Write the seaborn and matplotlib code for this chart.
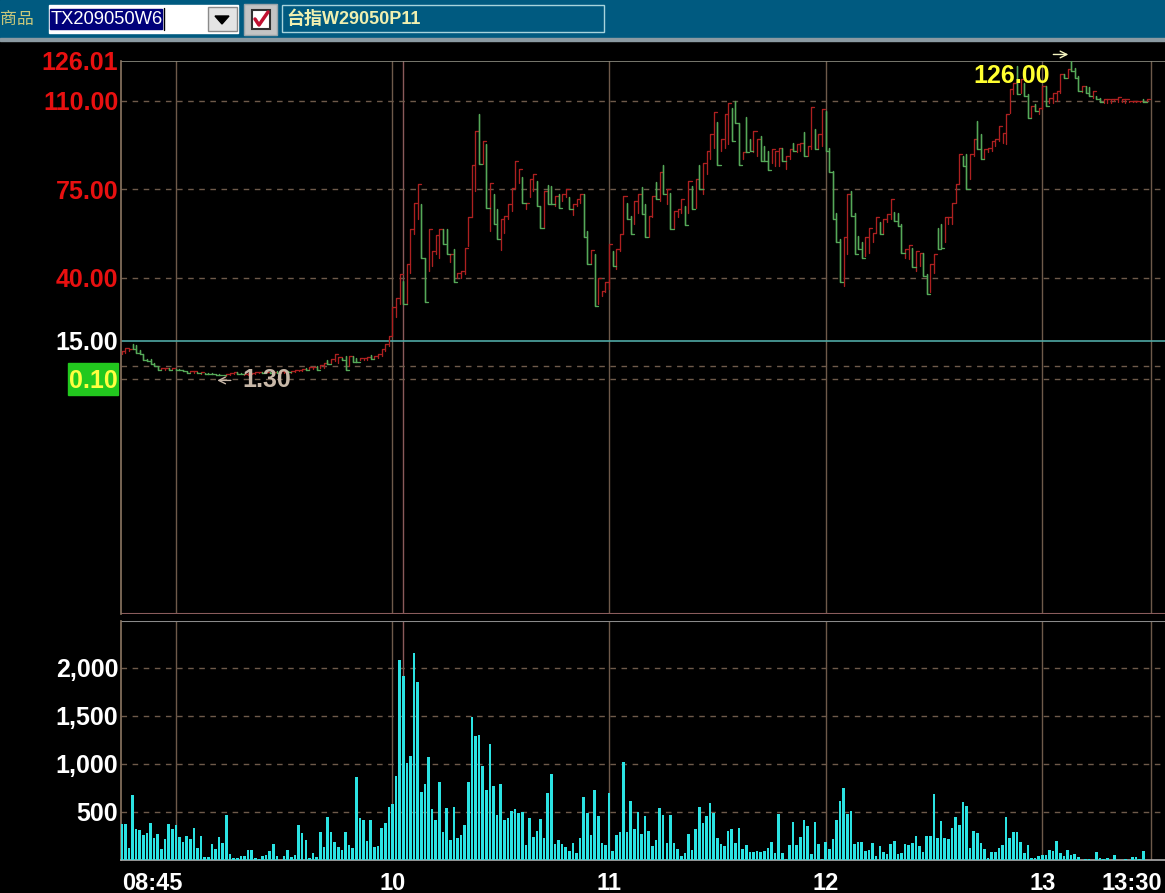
import numpy as np
import pandas as pd
import matplotlib
matplotlib.use("Agg")
import matplotlib.pyplot as plt
import seaborn as sns
from matplotlib.patches import Rectangle, Polygon
from matplotlib.transforms import ScaledTranslation

W, H = 1165, 893

product_code = "TX209050W6"
product_name = "台指W29050P11"

price_ticks = [126.01, 110, 75, 40, 15, 0.10]
price_labels = ["126.01", "110.00", "75.00", "40.00", "15.00", "0.10"]
price_label_colors = ["#e81010", "#e81010", "#e81010", "#e81010", "white", "#ffff40"]
price_dashed = [110, 75, 40, 5, 0.10]
reference_price = 15

volume_ticks = [500, 1000, 1500, 2000]
volume_labels = ["500", "1,000", "1,500", "2,000"]

# minutes after 08:45
time_ticks = [0, 15, 75, 135, 195, 255, 285]
time_labels = ["08:45", "", "10", "11", "12", "13", "13:30"]
marker_minute = 78

highs = [
    11.0, 12.1, 12.0, 13.7, 13.4, 11.3, 10.0, 8.0, 7.7, 6.4,
    5.1, 4.4, 4.4, 4.2, 4.3, 4.0, 4.0, 3.6, 3.1, 3.1,
    3.0, 2.7, 2.6, 2.5, 2.3, 2.2, 2.1, 1.8, 1.5, 1.8,
    2.2, 2.7, 2.7, 2.5, 2.1, 2.2, 2.3, 2.7, 2.9, 2.7,
    2.6, 2.7, 2.9, 3.1, 3.0, 2.9, 3.1, 3.1, 3.4, 3.5,
    3.9, 4.3, 4.6, 4.9, 5.0, 5.4, 6.4, 7.6, 7.9, 9.7,
    8.7, 8.4, 9.1, 9.1, 9.1, 8.4, 8.1, 8.4, 8.7, 9.5,
    9.1, 9.7, 11.7, 13.7, 17.0, 28.3, 32.2, 41.7, 38.8, 45.4,
    59.3, 69.8, 77.0, 69.1, 48.0, 59.3, 50.7, 57.0, 59.3, 59.3,
    59.3, 49.4, 51.3, 42.1, 42.8, 52.0, 63.9, 84.7, 98.1, 105.0,
    94.2, 92.9, 77.7, 73.1, 67.2, 63.2, 64.5, 69.1, 75.7, 86.3,
    83.0, 79.9, 69.8, 79.0, 81.0, 78.4, 68.5, 74.4, 76.8, 76.4,
    72.4, 73.1, 73.1, 75.1, 71.8, 69.1, 71.1, 73.1, 73.1, 58.6,
    50.9, 49.4, 40.1, 34.9, 38.2, 53.3, 50.7, 51.3, 57.3, 72.4,
    69.8, 64.5, 70.5, 73.1, 76.0, 69.1, 64.5, 72.4, 78.1, 81.7,
    84.7, 75.1, 73.7, 66.5, 67.2, 71.1, 68.5, 78.4, 76.4, 79.0,
    84.7, 85.6, 90.0, 96.8, 105.8, 101.8, 94.8, 104.7, 109.3, 107.4,
    110.0, 101.4, 89.6, 103.7, 94.8, 98.1, 94.8, 96.2, 92.2, 90.2,
    90.9, 90.2, 91.5, 91.5, 88.3, 90.9, 93.5, 92.9, 93.5, 97.7,
    92.2, 107.8, 98.8, 96.8, 107.0, 106.0, 91.5, 82.3, 65.8, 55.3,
    56.0, 73.1, 74.4, 65.8, 56.6, 54.0, 56.0, 59.9, 57.9, 63.9,
    61.9, 63.2, 65.2, 71.1, 66.1, 65.8, 61.2, 51.3, 53.0, 52.0,
    50.7, 50.0, 50.0, 41.5, 45.4, 49.4, 59.9, 61.2, 63.9, 63.9,
    69.8, 77.0, 88.9, 88.2, 88.9, 88.9, 94.8, 102.1, 96.8, 90.9,
    91.5, 94.2, 94.8, 100.1, 97.5, 104.7, 114.6, 117.3, 123.8, 118.6,
    117.3, 112.6, 108.0, 108.7, 107.4, 115.9, 115.9, 111.3, 113.3, 114.0,
    120.5, 120.5, 122.5, 126.0, 123.2, 119.9, 115.9, 115.9, 115.7, 114.0,
    112.0, 111.3, 110.7, 110.9, 110.9, 110.9, 111.7, 110.9, 110.9, 110.0,
    110.0, 110.0, 110.0, 110.9, 110.9,
]
lows = [
    9.7, 10.1, 11.0, 11.7, 10.4, 9.7, 7.6, 7.1, 6.0, 5.1,
    3.4, 3.5, 3.7, 3.7, 3.8, 3.5, 3.4, 3.0, 2.5, 2.6,
    2.3, 2.2, 2.1, 2.1, 1.9, 1.8, 1.5, 1.5, 1.4, 1.3,
    1.5, 1.8, 2.1, 1.8, 1.4, 1.7, 1.9, 2.1, 2.3, 2.2,
    2.2, 2.3, 2.3, 2.3, 2.5, 2.5, 2.6, 2.5, 2.7, 3.0,
    3.1, 3.5, 3.7, 4.0, 3.5, 4.2, 4.5, 5.8, 6.4, 7.2,
    6.4, 7.4, 3.5, 5.1, 6.8, 6.7, 7.4, 7.4, 7.6, 8.0,
    8.0, 8.4, 9.1, 11.0, 13.0, 17.0, 24.3, 29.6, 29.6, 29.6,
    42.1, 57.3, 63.2, 48.0, 30.3, 42.8, 44.8, 49.4, 48.0, 53.3,
    49.4, 46.1, 38.2, 40.1, 40.1, 41.4, 52.7, 63.9, 74.4, 85.0,
    85.0, 67.8, 58.6, 61.2, 55.3, 50.9, 57.9, 63.2, 66.5, 75.1,
    77.7, 69.8, 67.2, 71.8, 74.4, 68.5, 59.9, 59.9, 69.1, 69.1,
    68.5, 67.8, 70.5, 71.8, 67.2, 64.9, 68.5, 69.8, 56.0, 45.4,
    45.4, 28.9, 29.6, 32.9, 34.2, 35.5, 44.8, 43.4, 50.7, 57.3,
    63.2, 57.5, 61.2, 65.8, 65.2, 56.0, 56.0, 63.9, 71.1, 70.5,
    73.1, 69.1, 59.2, 59.9, 63.9, 65.8, 61.0, 65.8, 67.2, 67.8,
    75.1, 73.1, 81.0, 86.9, 91.5, 84.7, 90.2, 91.5, 92.9, 94.2,
    101.4, 84.7, 86.9, 89.6, 90.2, 89.6, 88.2, 86.3, 86.3, 82.7,
    85.6, 84.3, 84.3, 86.3, 83.0, 86.9, 90.2, 89.6, 90.2, 88.2,
    88.2, 90.9, 90.9, 90.9, 92.2, 90.2, 81.7, 63.2, 54.0, 38.2,
    36.6, 49.4, 64.5, 49.4, 51.3, 48.0, 48.7, 50.0, 54.0, 57.9,
    57.3, 57.3, 61.9, 63.2, 62.5, 60.6, 50.0, 48.0, 47.4, 44.1,
    42.8, 44.8, 40.8, 33.5, 34.2, 42.1, 51.3, 52.0, 54.0, 61.2,
    61.2, 69.8, 77.0, 84.3, 75.0, 79.0, 88.2, 90.9, 86.9, 86.9,
    89.6, 90.2, 92.2, 94.2, 93.5, 92.9, 105.4, 112.6, 112.6, 113.3,
    112.0, 103.4, 103.4, 106.0, 104.7, 106.7, 108.0, 109.3, 109.3, 110.0,
    113.3, 119.2, 119.2, 121.9, 119.2, 114.0, 113.5, 113.3, 112.0, 111.3,
    110.7, 109.6, 109.1, 109.3, 109.1, 109.9, 109.6, 109.6, 109.3, 109.5,
    109.5, 109.5, 109.5, 109.6, 109.6,
]
# R closes at the high, G closes at the low
directions = (
    "RRRGGGGGGG" "GRRGRGGGGR" "RGRGGGGGGR" "RRGGRRRRRG" "RGRGRRGRRR"
    "RGRRGRRGRR" "RGGRGGRRRG" "RRRRRRRRGR" "RRRGGRRRRG" "GRGRRRRRRG"
    "RGRGGRRRRR" "RGRRRGGRGG" "RGRRGRRRGG" "RGRRRRGRRR" "GGRRGGRRGR"
    "GRGRRRGRGR" "GRRRRGRRRG" "GGRGGRRGGG" "RRRGRRGRRG" "RRGRRGGGGG"
    "RRGGGGRRRR" "GRRRGGGRRG" "RRGGRRGGRR" "RRRGGRRGGR" "RRRRRRRRGR"
    "GGRGRRGRRR" "RGRGGGRGGR" "GGRRRRRRRR" "RRRGR"
)
volumes = [
    375, 375, 120, 680, 320, 310, 255, 280, 385, 230,
    270, 115, 220, 375, 320, 365, 240, 190, 250, 220,
    335, 125, 250, 30, 30, 165, 115, 240, 175, 470,
    60, 20, 20, 40, 40, 105, 105, 20, 10, 40,
    50, 95, 165, 40, 0, 40, 105, 30, 50, 365,
    280, 210, 20, 75, 30, 290, 135, 450, 290, 190,
    135, 105, 290, 155, 125, 865, 435, 415, 200, 415,
    135, 145, 335, 385, 550, 580, 875, 2080, 1910, 1010,
    1085, 2150, 1850, 710, 790, 1070, 530, 415, 810, 290,
    540, 210, 550, 230, 260, 365, 810, 1485, 1285, 1300,
    980, 730, 1205, 770, 470, 790, 415, 435, 510, 530,
    490, 500, 155, 435, 240, 300, 425, 230, 700, 895,
    165, 210, 165, 135, 95, 175, 75, 230, 655, 490,
    260, 730, 460, 175, 155, 700, 95, 260, 290, 1020,
    290, 615, 320, 500, 270, 460, 300, 145, 210, 540,
    470, 175, 470, 175, 115, 40, 75, 270, 105, 320,
    550, 385, 460, 595, 490, 230, 165, 145, 300, 320,
    175, 335, 115, 155, 85, 85, 95, 85, 95, 125,
    185, 75, 480, 75, 10, 155, 395, 155, 240, 415,
    355, 60, 395, 165, 10, 185, 115, 220, 415, 615,
    750, 480, 510, 165, 185, 185, 95, 105, 175, 40,
    145, 85, 60, 165, 200, 60, 75, 165, 155, 175,
    250, 145, 85, 250, 250, 685, 230, 405, 230, 220,
    335, 450, 365, 600, 560, 125, 300, 280, 175, 115,
    20, 85, 85, 125, 155, 450, 230, 290, 290, 185,
    75, 155, 20, 20, 40, 50, 50, 105, 95, 200,
    75, 40, 105, 50, 60, 30, 0, 10, 10, 2,
    85, 20, 10, 20, 0, 50, 0, 0, 10, 0,
    30, 30, 10, 95,
]

sns.set_theme(style="dark", rc={"axes.facecolor": "black", "figure.facecolor": "black"})
plt.rcParams["font.family"] = ["Liberation Sans", "Noto Sans CJK TC"]

GRID = "#6e5a4a"
fig = plt.figure(figsize=(W / 100, H / 100), dpi=100)


def px_axes(x0, y0, x1, y1, **kw):
    return fig.add_axes([x0 / W, 1 - y1 / H, (x1 - x0) / W, (y1 - y0) / H], **kw)


# toolbar and the green box are drawn on a pixel sized overlay
bg = px_axes(0, 0, W, H, zorder=0)
bg.set_xlim(0, W)
bg.set_ylim(H, 0)
bg.axis("off")
bg.add_patch(Rectangle((0, 0), W, 38, color="#005a80"))
bg.add_patch(Rectangle((0, 38), W, 2.5, color="#8b9aa2"))
bg.text(0, 19.5, "商品", color="#c9c97c", fontsize=12.2, va="center", ha="left")
bg.add_patch(Rectangle((49, 5), 189, 28, color="white"))
bg.add_patch(Rectangle((50, 9), 112, 20, color="#00007a"))
bg.text(51, 19.5, product_code, color="white", fontsize=13.2, va="center")
bg.plot([163.5, 163.5], [8, 30], color="black", lw=1)
bg.add_patch(Rectangle((208, 7), 29, 24, fc="#e4e4e4", ec="#8a8a8a", lw=1))
bg.add_patch(Polygon([[215, 16], [229, 16], [222, 24]], color="black"))
bg.add_patch(Rectangle((244, 4), 33, 31, fc="#c4c4c4", ec="#9aa5aa", lw=1))
bg.add_patch(Rectangle((252, 10), 18, 19, fc="white", ec="#303030", lw=1.5))
bg.plot([255, 259, 268], [19, 25, 12], color="#c01030", lw=2.5)
bg.add_patch(Rectangle((282, 5), 322, 27, fc="none", ec="#a8d4dc", lw=1))
bg.text(286, 19, product_name, color="#f0f0b0", fontsize=13, fontweight="bold", va="center")
bg.add_patch(Rectangle((68, 363), 50, 32, color="#22c81e"))

ax = px_axes(121, 60.5, W, 614, zorder=1)
ax.set_facecolor("none")
vol_ax = px_axes(121, 620.5, W, 860, zorder=1)
vol_ax.set_facecolor("none")

# price panel, each minute is low, high, back to close, then a step to the next minute
rows = []
for m, (hi, lo, d) in enumerate(zip(highs, lows, directions)):
    close = hi if d == "R" else lo
    path = [(m, lo), (m, hi), (m, close), (m + 0.9, close)]
    rows += [{"minute": x, "price": y, "bar": m, "dir": d} for x, y in path]
bars = pd.DataFrame(rows)
sns.lineplot(data=bars, x="minute", y="price", hue="dir", units="bar", estimator=None,
             sort=False, palette={"R": "#ad2020", "G": "#55a858"}, legend=False,
             lw=0.95, ax=ax, zorder=3)

sns.barplot(x=np.arange(len(volumes)), y=volumes, native_scale=True, color="#2be3e3",
            saturation=1, width=0.72, linewidth=0, edgecolor="none", ax=vol_ax, zorder=3)

for a in (ax, vol_ax):
    a.set_xlim(-0.19, 289.0)
    a.set_xlabel("")
    a.set_ylabel("")
    a.grid(False)
    for m in time_ticks[1:]:
        a.axvline(m, color=GRID, lw=1, zorder=1)
    a.axvline(marker_minute, color="#8a5a5a", lw=1, zorder=1)
    for side in ("right", "top", "bottom"):
        a.spines[side].set_visible(False)
    a.spines["left"].set_color("#8c7662")
    a.spines["left"].set_linewidth(1.2)

# price axis
ax.set_ylim(-93.05, 126.01)
ax.set_yticks(price_ticks)
ax.set_yticklabels(price_labels, fontsize=18, fontweight="bold")
for lab, c in zip(ax.get_yticklabels(), price_label_colors):
    lab.set_color(c)
ax.tick_params(axis="y", length=0, pad=2)
ax.set_xticks([])
for v in price_dashed:
    ax.axhline(v, color=GRID, lw=1, ls=(0, (4, 4)), zorder=1)
ax.axhline(reference_price, color="#4fa8a4", lw=1.2, zorder=2)
ax.axhline(126.01, color="#8c8c80", lw=1.2, zorder=2)
ax.axhline(-93.05, color="#8a5c5c", lw=1.5, zorder=2)

ax.text(33.3, -0.6, "1.30", color="#c8b8a8", fontsize=18, fontweight="bold", va="center")
ax.annotate("", xy=(25.7, -0.6), xytext=(31, -0.6),
            arrowprops=dict(arrowstyle="->", color="#c8b8a8", lw=1))
ax.text(236, 119.7, "126.00", color="#ffff30", fontsize=18, fontweight="bold", va="center", zorder=5)
ax.annotate("", xy=(263, 128.4), xytext=(257.3, 128.4), annotation_clip=False,
            arrowprops=dict(arrowstyle="->", color="#f4f4c0", lw=1))

# volume axis
vol_ax.set_ylim(0, 2490)
vol_ax.set_yticks(volume_ticks)
vol_ax.set_yticklabels(volume_labels, fontsize=18, fontweight="bold", color="white")
vol_ax.tick_params(axis="y", length=0, pad=2)
for v in volume_ticks:
    vol_ax.axhline(v, color=GRID, lw=1, ls=(0, (4, 4)), zorder=1)
vol_ax.axhline(2490, color="#8a8a8a", lw=1.5, zorder=2)
vol_ax.spines["bottom"].set_visible(True)
vol_ax.spines["bottom"].set_color("#a8a8a8")
vol_ax.set_xticks(time_ticks)
vol_ax.set_xticklabels(time_labels, fontsize=17, fontweight="bold", color="white")
vol_ax.tick_params(axis="x", length=3.5, color=GRID, pad=5)
labs = vol_ax.get_xticklabels()
labs[0].set_ha("left")
labs[-1].set_ha("left")
labs[-1].set_transform(labs[-1].get_transform() + ScaledTranslation(-0.49, 0, fig.dpi_scale_trans))

fig.savefig("out.png", dpi=100, facecolor="black")
